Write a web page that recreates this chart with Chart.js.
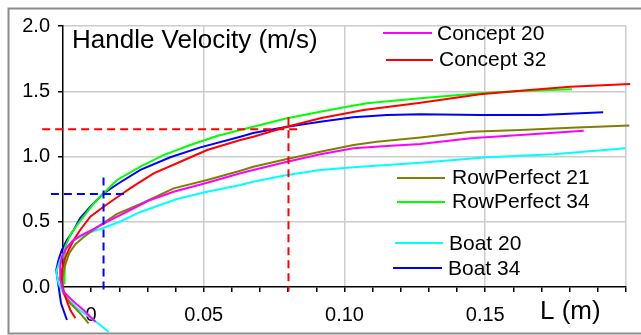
<!DOCTYPE html>
<html>
<head>
<meta charset="utf-8">
<script src="https://cdn.jsdelivr.net/npm/chart.js@4.4.1/dist/chart.umd.min.js"></script>
<style>
  html, body { margin: 0; padding: 0; background: #fff; }
  #wrap { width: 641px; height: 335px; }
</style>
</head>
<body>
<div id="wrap"><canvas id="veloChart" width="641" height="335"></canvas></div>
<script>
// [L (m), handle velocity (m/s)]
const concept20 = [[0.0115,-0.266],[0.0073,-0.176],[0.0038,-0.113],[0.0002,-0.036],[-0.001,0.054],[-0.001,0.156],[-0.0004,0.232],[0.0012,0.299],[0.0033,0.352],[0.0061,0.391],[0.0108,0.444],[0.0168,0.513],[0.0239,0.590],[0.031,0.667],[0.0393,0.730],[0.0512,0.799],[0.063,0.871],[0.0676,0.897],[0.0796,0.960],[0.0914,1.017],[0.1032,1.063],[0.1151,1.080],[0.127,1.096],[0.1448,1.139],[0.1625,1.165],[0.185,1.198]];
const concept32 = [[0.0044,-0.240],[0.0026,-0.176],[0.0008,-0.074],[-0.0004,0.028],[-0.0004,0.130],[0.0005,0.207],[0.002,0.284],[0.0038,0.360],[0.0061,0.437],[0.0097,0.539],[0.0144,0.615],[0.0204,0.705],[0.0238,0.756],[0.0322,0.871],[0.0417,0.960],[0.0512,1.050],[0.063,1.126],[0.0676,1.152],[0.0796,1.228],[0.0914,1.293],[0.1068,1.356],[0.127,1.412],[0.1482,1.477],[0.1625,1.504],[0.1802,1.535],[0.2015,1.556]];
const rowPerfect21 = [[0.0091,-0.278],[0.0061,-0.202],[0.0026,-0.125],[0.0002,-0.048],[-0.0004,0.054],[0.0006,0.156],[0.0022,0.260],[0.0045,0.330],[0.0075,0.385],[0.0109,0.440],[0.0192,0.560],[0.0275,0.636],[0.0393,0.756],[0.0512,0.820],[0.063,0.891],[0.0676,0.922],[0.0796,0.981],[0.0914,1.037],[0.1032,1.088],[0.1115,1.113],[0.127,1.146],[0.1448,1.190],[0.1625,1.203],[0.1803,1.221],[0.2012,1.238]];
const rowPerfect34 = [[0.0005,0.02],[0.0008,0.309],[0.0026,0.398],[0.005,0.475],[0.0073,0.539],[0.0109,0.641],[0.0156,0.743],[0.0192,0.820],[0.0275,0.922],[0.0357,1.011],[0.0452,1.088],[0.0547,1.157],[0.063,1.203],[0.0676,1.228],[0.0796,1.293],[0.0914,1.343],[0.1009,1.382],[0.108,1.408],[0.1173,1.428],[0.127,1.446],[0.1482,1.484],[0.1625,1.502],[0.1808,1.515]];
const boat20 = [[0.0162,-0.343],[0.0109,-0.253],[0.005,-0.163],[0.0008,-0.074],[-0.0016,0.028],[-0.0024,0.117],[-0.001,0.207],[0.0008,0.284],[0.0026,0.335],[0.005,0.373],[0.0085,0.411],[0.0143,0.452],[0.0204,0.502],[0.0275,0.575],[0.0405,0.674],[0.0512,0.730],[0.063,0.782],[0.0676,0.807],[0.0796,0.858],[0.0914,0.897],[0.1032,0.917],[0.1151,0.935],[0.127,0.952],[0.1506,0.994],[0.1743,1.017],[0.1998,1.063]];
const boat34 = [[0.0014,-0.253],[-0.0007,-0.125],[-0.0019,0.054],[-0.0024,0.130],[-0.0016,0.207],[-0.0004,0.284],[0.0014,0.360],[0.0038,0.437],[0.0061,0.529],[0.0097,0.615],[0.0144,0.718],[0.0198,0.795],[0.0275,0.897],[0.0381,0.994],[0.0488,1.070],[0.063,1.152],[0.0676,1.180],[0.0796,1.228],[0.0914,1.267],[0.1031,1.300],[0.1151,1.318],[0.127,1.323],[0.1482,1.318],[0.1696,1.318],[0.1919,1.339]];

// dashed guide lines
const redGuideH = [[-0.0074,1.208],[0.0847,1.208]];
const redGuideV = [[0.0801,1.30],[0.0801,-0.035]];
const blueGuideH = [[-0.0043,0.713],[0.0233,0.713]];
const blueGuideV = [[0.0144,0.84],[0.0144,-0.035]];

const seriesNames = ['Concept 20', 'Concept 32', 'RowPerfect 21', 'RowPerfect 34', 'Boat 20', 'Boat 34'];
const seriesColors = ['#ff00ff', '#ff0000', '#808000', '#00ff00', '#00ffff', '#0000ff'];
const seriesData = [concept20, concept32, rowPerfect21, rowPerfect34, boat20, boat34];

const xTickAt = [0.01, 0.05, 0.10, 0.15];
const xTickText = ['0', '0.05', '0.10', '0.15'];
const yTitle = 'Handle Velocity (m/s)';
const xTitle = 'L (m)';

const FONT = '"Liberation Sans", Arial, sans-serif';

function toPts(arr) {
    return arr.map(p => ({ x: p[0], y: p[1] }));
}

function isMajor(v) {
    const r = v / 0.05;
    return v > 0.0001 && Math.abs(r - Math.round(r)) < 1e-6;
}

// where each legend entry sits inside the plot (line x1..x2 at y, text at tx / baseline ty)
const legendSpots = [
    { x1: 383, x2: 432, y: 33, tx: 437, ty: 40 },
    { x1: 386, x2: 433, y: 60, tx: 439, ty: 66 },
    { x1: 397, x2: 445, y: 178, tx: 452, ty: 184 },
    { x1: 397, x2: 445, y: 202, tx: 452, ty: 208 },
    { x1: 395, x2: 443, y: 243, tx: 449, ty: 250 },
    { x1: 393, x2: 442, y: 268, tx: 448, ty: 275 }
];

const decorPlugin = {
    id: 'decor',
    afterDraw(chart) {
        const ctx = chart.ctx;
        ctx.save();
        // outer frame
        ctx.strokeStyle = '#8c8c8c';
        ctx.lineWidth = 2;
        ctx.beginPath();
        ctx.moveTo(641, 8.5);
        ctx.lineTo(8.5, 8.5);
        ctx.lineTo(8.5, 333.5);
        ctx.lineTo(641, 333.5);
        ctx.stroke();

        ctx.fillStyle = '#000';
        ctx.textBaseline = 'alphabetic';
        ctx.font = '26px ' + FONT;
        ctx.fillText(yTitle, 72, 48);
        ctx.fillText(xTitle, 540, 319);

        // legend
        ctx.font = '21px ' + FONT;
        legendSpots.forEach((s, i) => {
            ctx.strokeStyle = seriesColors[i];
            ctx.lineWidth = 2;
            ctx.beginPath();
            ctx.moveTo(s.x1, s.y);
            ctx.lineTo(s.x2, s.y);
            ctx.stroke();
            ctx.fillText(seriesNames[i], s.tx, s.ty);
        });
        ctx.restore();
    }
};

function guide(data, color) {
    return {
        label: '',
        data: toPts(data),
        borderColor: color,
        borderWidth: 2,
        borderDash: [8, 5],
        pointRadius: 0,
        showLine: true,
        clip: false
    };
}

function afficherChart() {
    const ctx = document.getElementById('veloChart').getContext('2d');

    const datasets = [
        guide(redGuideH, '#ff0000'),
        guide(redGuideV, '#ff0000'),
        guide(blueGuideH, '#0000ff'),
        guide(blueGuideV, '#0000ff')
    ];
    seriesData.forEach((d, i) => {
        datasets.push({
            label: seriesNames[i],
            data: toPts(d),
            borderColor: seriesColors[i],
            borderWidth: 2,
            pointRadius: 0,
            showLine: true,
            tension: 0,
            clip: false
        });
    });

    new Chart(ctx, {
        type: 'scatter',
        data: { datasets },
        options: {
            responsive: false,
            animation: false,
            layout: { padding: { left: 0, top: 26, right: 15, bottom: 0 } },
            plugins: {
                legend: { display: false },
                tooltip: { enabled: false }
            },
            scales: {
                x: {
                    type: 'linear',
                    min: 0,
                    max: 0.2,
                    afterBuildTicks: (scale) => {
                        scale.ticks = Array.from({ length: 21 }, (_, i) => ({ value: i / 100 }));
                    },
                    afterFit: (scale) => { scale.height = 48; },
                    ticks: {
                        autoSkip: false,
                        maxRotation: 0,
                        padding: 11,
                        color: '#000',
                        font: { family: FONT, size: 20 },
                        callback: (v) => {
                            const k = xTickAt.findIndex(t => Math.abs(t - v) < 1e-9);
                            return k >= 0 ? xTickText[k] : '';
                        }
                    },
                    grid: {
                        color: (c) => isMajor(c.tick.value) ? '#cccccc' : 'rgba(0,0,0,0)',
                        tickColor: '#000',
                        tickLength: 5,
                        lineWidth: 1.5
                    },
                    border: { color: '#000', width: 1.5 }
                },
                y: {
                    min: 0,
                    max: 2,
                    afterFit: (scale) => { scale.width = 63; },
                    ticks: {
                        stepSize: 0.5,
                        padding: 8,
                        color: '#000',
                        font: { family: FONT, size: 20 },
                        callback: (v) => v.toFixed(1)
                    },
                    grid: {
                        color: (c) => c.tick.value > 0 ? '#cccccc' : 'rgba(0,0,0,0)',
                        tickColor: '#000',
                        tickLength: 5,
                        lineWidth: 1.5
                    },
                    border: { color: '#000', width: 1.5 }
                }
            }
        },
        plugins: [decorPlugin]
    });
}

document.addEventListener('DOMContentLoaded', () => {
    afficherChart();
});
</script>
</body>
</html>
